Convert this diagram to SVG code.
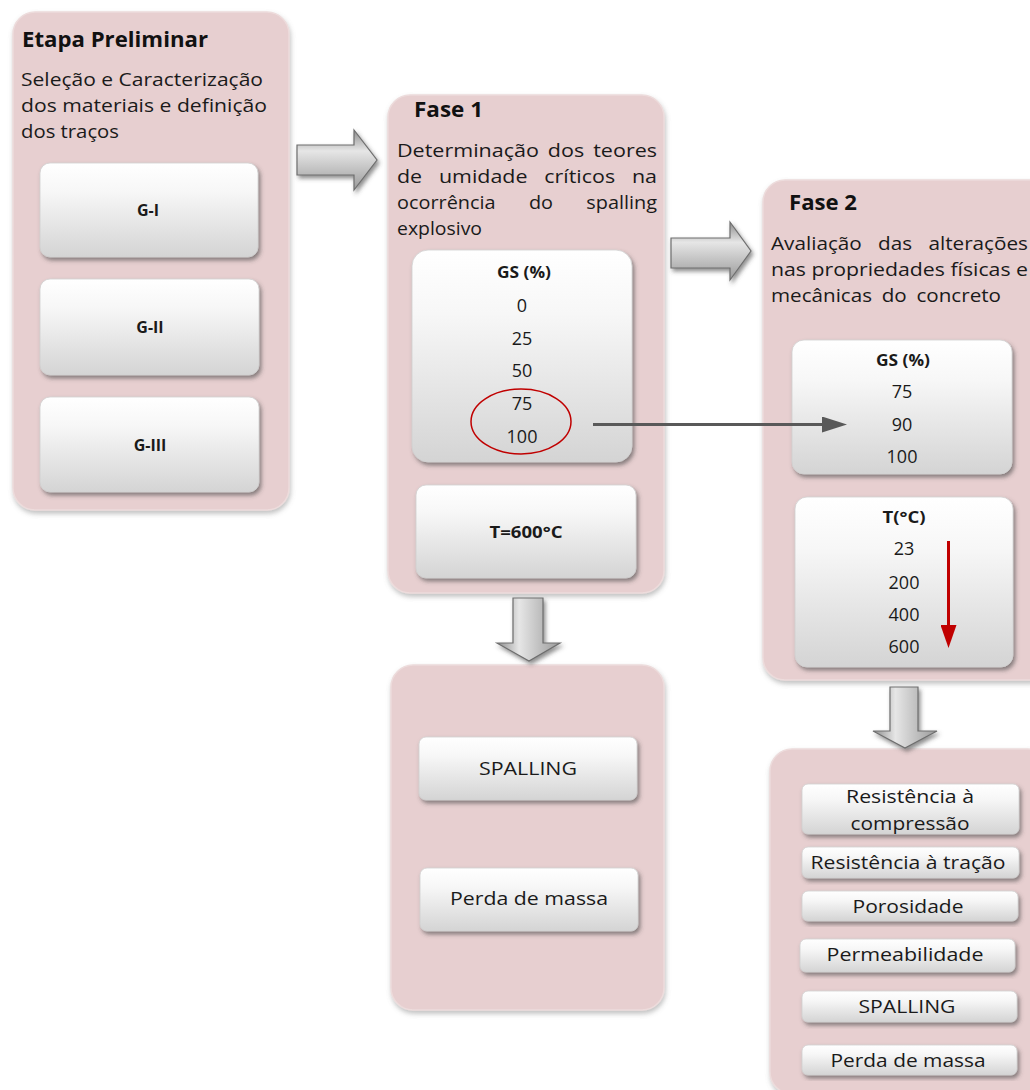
<svg xmlns="http://www.w3.org/2000/svg" width="1030" height="1090" viewBox="0 0 1030 1090">
<defs>
<linearGradient id="btn" x1="0" y1="0" x2="0" y2="1">
<stop offset="0" stop-color="#ffffff"/>
<stop offset="0.3" stop-color="#f7f7f7"/>
<stop offset="1" stop-color="#d4d4d4"/>
</linearGradient>
<linearGradient id="arrH" x1="0" y1="0" x2="0" y2="1">
<stop offset="0" stop-color="#8c8c8c"/>
<stop offset="0.35" stop-color="#e6e6e6"/>
<stop offset="1" stop-color="#9a9a9a"/>
</linearGradient>
<linearGradient id="arrV" x1="0" y1="0" x2="1" y2="0">
<stop offset="0" stop-color="#8c8c8c"/>
<stop offset="0.35" stop-color="#e6e6e6"/>
<stop offset="1" stop-color="#9a9a9a"/>
</linearGradient>
<filter id="sh" x="-10%" y="-10%" width="130%" height="130%">
<feDropShadow dx="2" dy="3" stdDeviation="2" flood-color="#444" flood-opacity="0.6"/>
</filter>
<filter id="shp" x="-10%" y="-10%" width="130%" height="130%">
<feDropShadow dx="1" dy="3" stdDeviation="2.5" flood-color="#777" flood-opacity="0.45"/>
</filter>
<marker id="mg" viewBox="0 0 25 16" refX="3" refY="8" markerWidth="25" markerHeight="16" orient="auto" markerUnits="userSpaceOnUse">
<path d="M0,0 L25,8 L0,16 Z" fill="#595959"/>
</marker>
<marker id="mr" viewBox="0 0 16 23" refX="8" refY="3" markerWidth="16" markerHeight="23" orient="0" markerUnits="userSpaceOnUse">
<path d="M0,0 L16,0 L8,23 Z" fill="#c00000"/>
</marker>
</defs>
<style>
.pk{fill:#e7cfd0;stroke:#eddcdc;stroke-width:1.5;filter:url(#shp)}
.bt{fill:url(#btn);stroke:#d0d0d0;stroke-width:0.8;filter:url(#sh)}
.ttl{font-family:"Open Sans","Liberation Sans",sans-serif;font-weight:bold;font-size:21px;fill:#111}
.body{font-family:"Open Sans","Liberation Sans",sans-serif;font-size:19px;fill:#1a1a1a}
.lb{font-family:"Open Sans","Liberation Sans",sans-serif;font-weight:bold;font-size:16px;fill:#1a1a1a;text-anchor:middle}
.num{font-family:"Open Sans","Liberation Sans",sans-serif;font-size:18px;fill:#1a1a1a;text-anchor:middle}
.it{font-family:"Open Sans","Liberation Sans",sans-serif;font-size:19px;fill:#1a1a1a;text-anchor:middle}
.ba{stroke:#6e6e6e;stroke-width:1.2;filter:url(#sh)}
</style>

<g id="etapa">
<rect class="pk" x="13" y="12" width="276" height="498" rx="22"/>
<text class="ttl" x="22" y="47" textLength="186" lengthAdjust="spacingAndGlyphs">Etapa Preliminar</text>
<text class="body" x="21" y="86" textLength="242" lengthAdjust="spacingAndGlyphs">Seleção e Caracterização</text>
<text class="body" x="21" y="112" textLength="246" lengthAdjust="spacingAndGlyphs">dos materiais e definição</text>
<text class="body" x="21" y="138" textLength="98" lengthAdjust="spacingAndGlyphs">dos traços</text>
</g>
<g id="g1"><rect class="bt" x="40" y="163" width="218" height="94" rx="10"/><text class="lb" x="148" y="216">G-I</text></g>
<g id="g2"><rect class="bt" x="40" y="279" width="219" height="96" rx="10"/><text class="lb" x="150" y="333">G-II</text></g>
<g id="g3"><rect class="bt" x="40" y="397" width="219" height="95" rx="10"/><text class="lb" x="150" y="451">G-III</text></g>

<g id="fase1">
<rect class="pk" x="388" y="95" width="276" height="498" rx="22"/>
<text class="ttl" x="414" y="117" textLength="69" lengthAdjust="spacingAndGlyphs">Fase 1</text>
<text class="body" x="397" y="157" textLength="260" lengthAdjust="spacingAndGlyphs" word-spacing="3">Determinação dos teores</text>
<text class="body" x="397" y="183" textLength="260" lengthAdjust="spacingAndGlyphs" word-spacing="10">de umidade críticos na</text>
<text class="body" x="397" y="209" textLength="260" lengthAdjust="spacingAndGlyphs" word-spacing="27">ocorrência do spalling</text>
<text class="body" x="397" y="235" textLength="85" lengthAdjust="spacingAndGlyphs">explosivo</text>
</g>
<g id="gs1">
<rect class="bt" x="412" y="250" width="220" height="212" rx="16"/>
<text class="lb" x="524" y="278" textLength="54" lengthAdjust="spacingAndGlyphs">GS (%)</text>
<text class="num" x="522" y="312">0</text>
<text class="num" x="522" y="345">25</text>
<text class="num" x="522" y="377">50</text>
<text class="num" x="522" y="410">75</text>
<text class="num" x="522" y="443">100</text>
<ellipse cx="521" cy="421.5" rx="50" ry="32.5" fill="none" stroke="#c00000" stroke-width="1.5"/>
</g>
<g id="t600"><rect class="bt" x="416" y="485" width="220" height="93" rx="10"/><text class="lb" x="526" y="538" textLength="73" lengthAdjust="spacingAndGlyphs">T=600°C</text></g>

<g id="fase2">
<rect class="pk" x="763" y="180" width="290" height="500" rx="22"/>
<text class="ttl" x="789" y="210" textLength="68" lengthAdjust="spacingAndGlyphs">Fase 2</text>
<text class="body" x="771" y="250" textLength="257" lengthAdjust="spacingAndGlyphs" word-spacing="10">Avaliação das alterações</text>
<text class="body" x="771" y="276" textLength="257" lengthAdjust="spacingAndGlyphs">nas propriedades físicas e</text>
<text class="body" x="771" y="302" textLength="230" lengthAdjust="spacingAndGlyphs" word-spacing="4">mecânicas do concreto</text>
</g>
<g id="gs2">
<rect class="bt" x="792" y="340" width="220" height="134" rx="12"/>
<text class="lb" x="903" y="366" textLength="54" lengthAdjust="spacingAndGlyphs">GS (%)</text>
<text class="num" x="902" y="398">75</text>
<text class="num" x="902" y="431">90</text>
<text class="num" x="902" y="463">100</text>
</g>
<g id="tc">
<rect class="bt" x="795" y="497" width="218" height="170" rx="12"/>
<text class="lb" x="904" y="523" textLength="43" lengthAdjust="spacingAndGlyphs">T(°C)</text>
<text class="num" x="904" y="555">23</text>
<text class="num" x="904" y="589">200</text>
<text class="num" x="904" y="621">400</text>
<text class="num" x="904" y="653">600</text>
</g>

<g id="res1">
<rect class="pk" x="391" y="665" width="273" height="345" rx="22"/>
</g>
<g id="sp1"><rect class="bt" x="419" y="737" width="218" height="63" rx="7"/><text class="it" x="528" y="775" textLength="98" lengthAdjust="spacingAndGlyphs">SPALLING</text></g>
<g id="pm1"><rect class="bt" x="420" y="868" width="218" height="63" rx="7"/><text class="it" x="529" y="905" textLength="158" lengthAdjust="spacingAndGlyphs">Perda de massa</text></g>

<g id="res2">
<rect class="pk" x="770" y="749" width="280" height="345" rx="22"/>
</g>
<g id="r1"><rect class="bt" x="802" y="784" width="217" height="50" rx="6"/><text class="it" x="910" y="803" textLength="128" lengthAdjust="spacingAndGlyphs">Resistência à</text><text class="it" x="910" y="830" textLength="119" lengthAdjust="spacingAndGlyphs">compressão</text></g>
<g id="r2"><rect class="bt" x="802" y="847" width="217" height="31" rx="6"/><text class="it" x="908" y="869" textLength="195" lengthAdjust="spacingAndGlyphs">Resistência à tração</text></g>
<g id="r3"><rect class="bt" x="802" y="891" width="216" height="30" rx="6"/><text class="it" x="908" y="913" textLength="111" lengthAdjust="spacingAndGlyphs">Porosidade</text></g>
<g id="r4"><rect class="bt" x="800" y="939" width="215" height="33" rx="6"/><text class="it" x="905" y="961" textLength="157" lengthAdjust="spacingAndGlyphs">Permeabilidade</text></g>
<g id="r5"><rect class="bt" x="802" y="991" width="215" height="31" rx="6"/><text class="it" x="907" y="1013" textLength="97" lengthAdjust="spacingAndGlyphs">SPALLING</text></g>
<g id="r6"><rect class="bt" x="802" y="1045" width="215" height="30" rx="6"/><text class="it" x="908" y="1067" textLength="155" lengthAdjust="spacingAndGlyphs">Perda de massa</text></g>

<g id="connectors">
<path class="ba" fill="url(#arrH)" d="M297,145 H354 V130 L377,160 L354,190 V175 H297 Z"/>
<path class="ba" fill="url(#arrH)" d="M671,238 H730 V222 L751,251 L730,280 V268 H671 Z"/>
<path class="ba" fill="url(#arrV)" d="M513,598 H543 V643 H560 L529,661 L497,643 H513 Z"/>
<path class="ba" fill="url(#arrV)" d="M890,687 H918 V731 H937 L905,748 L873,731 H890 Z"/>
<line x1="593" y1="424.5" x2="825" y2="424.5" stroke="#595959" stroke-width="3" marker-end="url(#mg)"/>
<line x1="948.5" y1="541" x2="948.5" y2="628" stroke="#c00000" stroke-width="3" marker-end="url(#mr)"/>
</g>
</svg>
